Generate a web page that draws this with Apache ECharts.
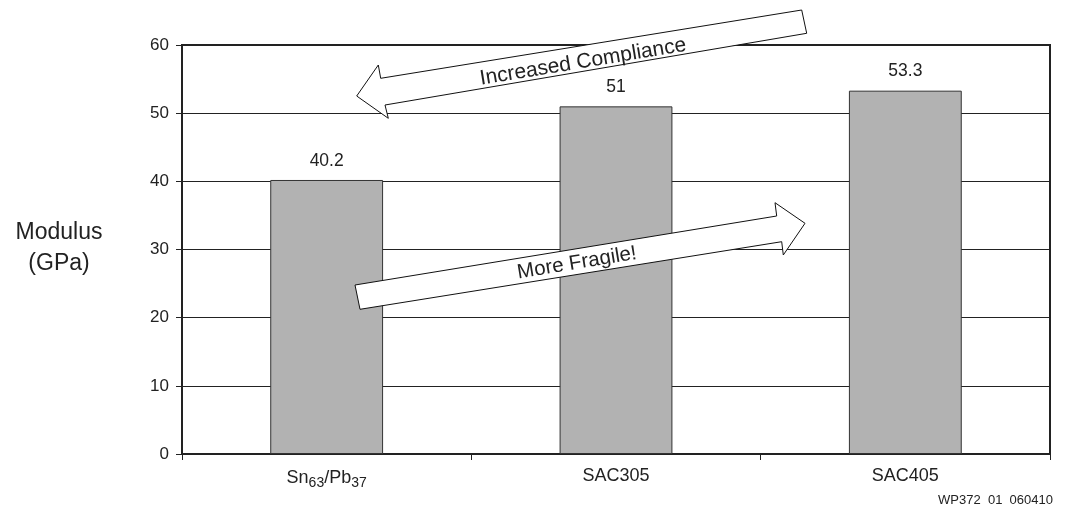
<!DOCTYPE html>
<html><head><meta charset="utf-8">
<script src="https://cdn.jsdelivr.net/npm/echarts@6/dist/echarts.min.js"></script>
<style>html,body{margin:0;padding:0;background:#fff}#c{width:1065px;height:506px}</style>
</head><body><div id="c"></div>
<script>
const categories = ['Sn63/Pb37', 'SAC305', 'SAC405'];
const modulusValues = [40.2, 51, 53.3];
const labelTexts = ['40.2', '51', '53.3'];
const yTicks = [0, 10, 20, 30, 40, 50, 60];

const chart = echarts.init(document.getElementById('c'));
const FONT = 'Liberation Sans, Arial, sans-serif';
const TXT = '#222';

function arrow(points) {
  return {type:'polygon', shape:{points:points}, style:{fill:'#fff', stroke:'#111', lineWidth:1}, z:100};
}
const ang = 9.4 * Math.PI / 180;

chart.setOption({
  animation:false,
  backgroundColor:'#fff',
  grid:{left:182, right:15, top:45, bottom:52, show:true, borderColor:'#222', borderWidth:2, backgroundColor:'transparent'},
  xAxis:{
    type:'category', data:categories,
    axisLine:{lineStyle:{color:'#222', width:2}},
    axisTick:{show:true, length:6, lineStyle:{color:'#222', width:1}},
    axisLabel:{
      margin:13, color:TXT, fontFamily:FONT, fontSize:18,
      formatter:function(v){
        if (v === 'Sn63/Pb37') return '{a|Sn}{s|63}{a|/Pb}{s|37}';
        return '{a|' + v + '}';
      },
      rich:{
        a:{fontFamily:FONT, fontSize:18, color:TXT},
        s:{fontFamily:FONT, fontSize:14, color:TXT, padding:[9,0,0,0]}
      }
    }
  },
  yAxis:{
    type:'value', min:0, max:60, interval:10,
    axisLine:{show:true, lineStyle:{color:'#222', width:2}},
    axisTick:{show:true, length:6, lineStyle:{color:'#222'}},
    axisLabel:{margin:13, color:TXT, fontFamily:FONT, fontSize:17,
      formatter:function(v){ return yTicks.indexOf(v) >= 0 ? String(v) : ''; }},
    splitLine:{show:true, lineStyle:{color:'#222', width:1}}
  },
  series:[{
    type:'bar', data:modulusValues, barWidth:'39%',
    itemStyle:{color:'#b2b2b2', borderColor:'#333', borderWidth:1},
    label:{show:true, position:'top', distance:10, color:TXT, fontFamily:FONT, fontSize:17.5,
      formatter:function(p){ return labelTexts[p.dataIndex]; }}
  }],
  graphic:[
    {type:'text', x:59, y:233, style:{text:'Modulus', fill:TXT, font:'23px ' + FONT, align:'center', verticalAlign:'middle'}},
    {type:'text', x:59, y:264, style:{text:'(GPa)', fill:TXT, font:'23px ' + FONT, align:'center', verticalAlign:'middle'}},
    {type:'text', x:1053, y:500, style:{text:'WP372  01  060410', fill:TXT, font:'13px ' + FONT, align:'right', verticalAlign:'middle'}},
    arrow([[801.7,10],[806.7,33.3],[385,105],[388.3,118.3],[356.7,96],[378.3,65],[380.7,78.3]]),
    {type:'text', x:583, y:62, rotation:ang, z:101,
      style:{text:'Increased Compliance', fill:TXT, font:'21px ' + FONT, align:'center', verticalAlign:'middle'}},
    arrow([[360,309.3],[355,285],[776.7,216],[775,202.7],[805,223.3],[783.3,255],[781.7,241.7]]),
    {type:'text', x:577, y:263, rotation:ang, z:101,
      style:{text:'More Fragile!', fill:TXT, font:'20.5px ' + FONT, align:'center', verticalAlign:'middle'}}
  ]
});
</script></body></html>
